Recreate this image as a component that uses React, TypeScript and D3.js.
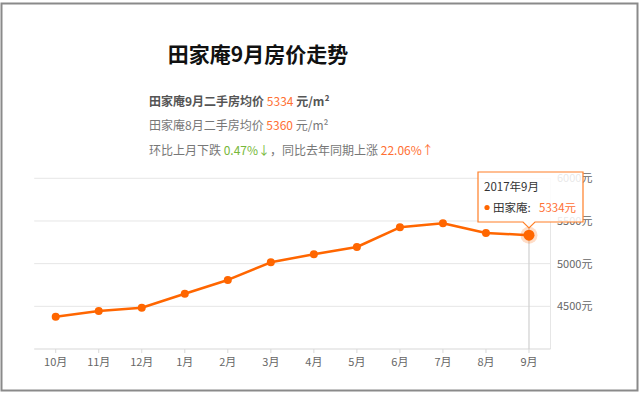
import React from "react";
import * as d3 from "d3";

const months = ["10月", "11月", "12月", "1月", "2月", "3月", "4月", "5月", "6月", "7月", "8月", "9月"];
const prices = [4378, 4445, 4484, 4648, 4809, 5016, 5110, 5195, 5426, 5473, 5360, 5334];
const yTicks = [4500, 5000, 5500, 6000];
const seriesName = "田家庵";
const tooltipTitle = "2017年9月";

const W = 640;
const H = 393;
const FONT = "'Noto Sans CJK SC', 'Noto Sans', sans-serif";
const ORANGE = "#ff6600";
const TXT_ORANGE = "#ff7033";

export default function App() {
  const x = d3.scaleBand<string>().domain(months).range([34.2, 550.5]);
  const y = d3.scaleLinear().domain([4000, 6000]).range([349, 178.3]);
  const cx = (m: string) => (x(m) as number) + x.bandwidth() / 2;

  const line = d3
    .line<number>()
    .x((_, i) => cx(months[i]))
    .y((d) => y(d));

  const lastI = prices.length - 1;
  const lx = cx(months[lastI]);
  const ly = y(prices[lastI]);

  const tipL = 478, tipR = 583, tipT = 172, tipB = 222;

  return (
    <div style={{ position: "absolute", left: 0, top: 0 }}>
      <svg width={W} height={H} style={{ display: "block", fontFamily: FONT }}>
        <rect x={0} y={0} width={W} height={H} fill="#fff" />
        <rect x={1.5} y={3.5} width={636} height={387} fill="none" stroke="#8a8a8a" strokeWidth={2} />

        {/* Title */}
        <text x={258} y={62} textAnchor="middle" fontSize={21} fontWeight="bold" fill="#111">
          田家庵9月房价走势
        </text>

        {/* Info lines */}
        <text x={149} y={106} fontSize={12} fill="#555">
          <tspan fontWeight="bold">田家庵9月二手房均价 </tspan>
          <tspan fill={TXT_ORANGE}>5334</tspan>
          <tspan fontWeight="bold"> 元/m²</tspan>
        </text>
        <text x={149} y={130} fontSize={12} fill="#777">
          <tspan>田家庵8月二手房均价 </tspan>
          <tspan fill={TXT_ORANGE}>5360</tspan>
          <tspan> 元/m²</tspan>
        </text>
        <text x={149} y={155} fontSize={12} fill="#777">
          <tspan>环比上月下跌 </tspan>
          <tspan fill="#77b83a">0.47%↓</tspan>
          <tspan>，同比去年同期上涨 </tspan>
          <tspan fill={TXT_ORANGE}>22.06%↑</tspan>
        </text>

        {/* Grid */}
        {yTicks.map((t) => (
          <line key={t} x1={34.2} x2={550.5} y1={y(t)} y2={y(t)} stroke="#e6e6e6" strokeWidth={1} />
        ))}
        <line x1={550.5} x2={550.5} y1={y(6000)} y2={y(4000)} stroke="#e6e6e6" />
        <line x1={34.2} x2={550.5} y1={y(4000)} y2={y(4000)} stroke="#d8d8d8" strokeWidth={1.2} />
        {months.map((m) => (
          <line key={m} x1={cx(m)} x2={cx(m)} y1={y(4000)} y2={y(4000) + 4} stroke="#d8d8d8" />
        ))}

        {/* Y labels */}
        {yTicks.map((t) => (
          <text key={t} x={557} y={y(t) + 4} fontSize={11} fill="#666">
            {t}元
          </text>
        ))}

        {/* X labels */}
        {months.map((m) => (
          <text key={m} x={cx(m)} y={366} textAnchor="middle" fontSize={11} fill="#666">
            {m}
          </text>
        ))}

        {/* crosshair */}
        <line x1={lx} x2={lx} y1={tipB} y2={y(4000)} stroke="#d0d0d0" strokeWidth={1.2} />

        {/* Line */}
        <path d={line(prices) || ""} fill="none" stroke={ORANGE} strokeWidth={2.5} strokeLinejoin="round" />
        {prices.map((p, i) =>
          i === lastI ? null : <circle key={i} cx={cx(months[i])} cy={y(p)} r={4} fill={ORANGE} />
        )}
        <circle cx={lx} cy={ly} r={8.5} fill={ORANGE} opacity={0.22} />
        <circle cx={lx} cy={ly} r={5.5} fill={ORANGE} />

        {/* Tooltip */}
        <path
          d={`M${tipL},${tipT} H${tipR} V${tipB} H${lx + 6} L${lx},${tipB + 6} L${lx - 6},${tipB} H${tipL} Z`}
          fill="rgba(255,255,255,0.85)"
          stroke="#ff7f27"
          strokeWidth={1.2}
        />
        <text x={484} y={191} fontSize={11.5} fill="#333">
          {tooltipTitle}
        </text>
        <circle cx={487} cy={207.5} r={2.6} fill={ORANGE} />
        <text x={493} y={211.5} fontSize={11.5} fill="#333">
          {seriesName}:
        </text>
        <text x={539} y={211.5} fontSize={11.5} fill={TXT_ORANGE}>
          {prices[lastI]}元
        </text>
      </svg>
    </div>
  );
}
